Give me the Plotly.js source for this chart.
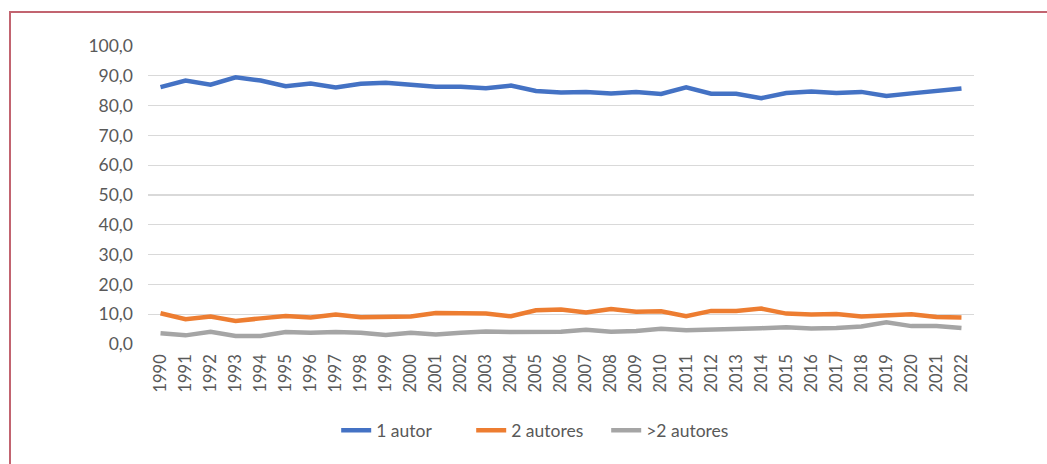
<!DOCTYPE html>
<html>
<head>
<meta charset="utf-8">
<script src="https://cdn.plot.ly/plotly-3.0.1.min.js"></script>
<style>
  html, body { margin: 0; padding: 0; background: #fff; }
  #wrap { position: relative; width: 1047px; height: 464px; overflow: hidden; }
  #chart { position: absolute; left: 0; top: 0; width: 1047px; height: 464px; }
  #frame { position: absolute; left: 9px; top: 11px; width: 1100px; height: 500px;
           border-left: 2px solid #c26470; border-top: 2px solid #c26470; pointer-events: none; }
</style>
</head>
<body>
<div id="wrap">
  <div id="chart"></div>
  <div id="frame"></div>
</div>
<script>
const years = ['1990','1991','1992','1993','1994','1995','1996','1997','1998','1999','2000',
  '2001','2002','2003','2004','2005','2006','2007','2008','2009','2010','2011','2012',
  '2013','2014','2015','2016','2017','2018','2019','2020','2021','2022'];

const unAutor = [86.2, 88.4, 87.0, 89.5, 88.4, 86.5, 87.4, 86.1, 87.3, 87.7, 87.0,
  86.3, 86.3, 85.8, 86.7, 84.9, 84.4, 84.6, 84.1, 84.6, 83.9, 86.1, 84.0,
  84.0, 82.5, 84.2, 84.7, 84.2, 84.6, 83.2, 84.1, 84.9, 85.7];

const dosAutores = [10.3, 8.3, 9.2, 7.7, 8.6, 9.4, 8.9, 9.9, 9.0, 9.0, 9.2,
  10.4, 10.2, 10.2, 9.3, 11.3, 11.6, 10.6, 11.7, 10.8, 11.0, 9.3, 11.1,
  11.1, 11.9, 10.2, 9.9, 10.1, 9.2, 9.6, 10.0, 9.1, 8.9];

const masDosAutores = [3.6, 2.9, 4.1, 2.7, 2.7, 4.0, 3.8, 4.0, 3.8, 3.0, 3.8,
  3.2, 3.8, 4.2, 4.0, 4.0, 4.1, 4.8, 4.1, 4.4, 5.1, 4.6, 4.8,
  4.8, 5.3, 5.6, 5.2, 5.4, 5.9, 7.3, 6.0, 6.0, 5.4];

const seriesNames = ['1 autor', '2 autores', '>2 autores'];
const seriesColors = ['#4472C4', '#ED7D31', '#A5A5A5'];
const yTicks = [0, 10, 20, 30, 40, 50, 60, 70, 80, 90, 100];

const font = 'Lato, "Open Sans", sans-serif';
const data = [unAutor, dosAutores, masDosAutores].map((v, i) => ({
  type: 'scatter', mode: 'lines', x: years, y: v, name: seriesNames[i],
  line: { color: seriesColors[i], width: 4.5 }, hoverinfo: 'skip'
}));

const layout = {
  width: 1047, height: 464,
  margin: { l: 148, r: 73, t: 46, b: 120 },
  paper_bgcolor: '#ffffff', plot_bgcolor: '#ffffff',
  separators: ',.',
  font: { family: font, size: 17, color: '#595959' },
  showlegend: true,
  legend: { orientation: 'h', x: 0.473, xanchor: 'center', y: -0.29, yanchor: 'middle',
            font: { family: font, size: 17.5, color: '#595959' }, itemwidth: 30,
            entrywidth: 90, tracegroupgap: 0 },
  xaxis: {
    type: 'category', range: [-0.5, years.length - 0.5], tickangle: -90,
    showgrid: false, zeroline: false, showline: false, ticks: '',
    tickfont: { family: font, size: 16.5, color: '#595959' }, ticklabelstandoff: 6, fixedrange: true
  },
  yaxis: {
    range: [0, 100], tickvals: yTicks, tickformat: '.1f',
    showgrid: true, gridcolor: '#d9d9d9', gridwidth: 1.3, zeroline: false, showline: false,
    ticks: '', tickfont: { family: font, size: 17.5, color: '#595959' }, ticklabelstandoff: 14, fixedrange: true
  }
};

Plotly.newPlot('chart', data, layout, { displayModeBar: false, staticPlot: true });
</script>
</body>
</html>
